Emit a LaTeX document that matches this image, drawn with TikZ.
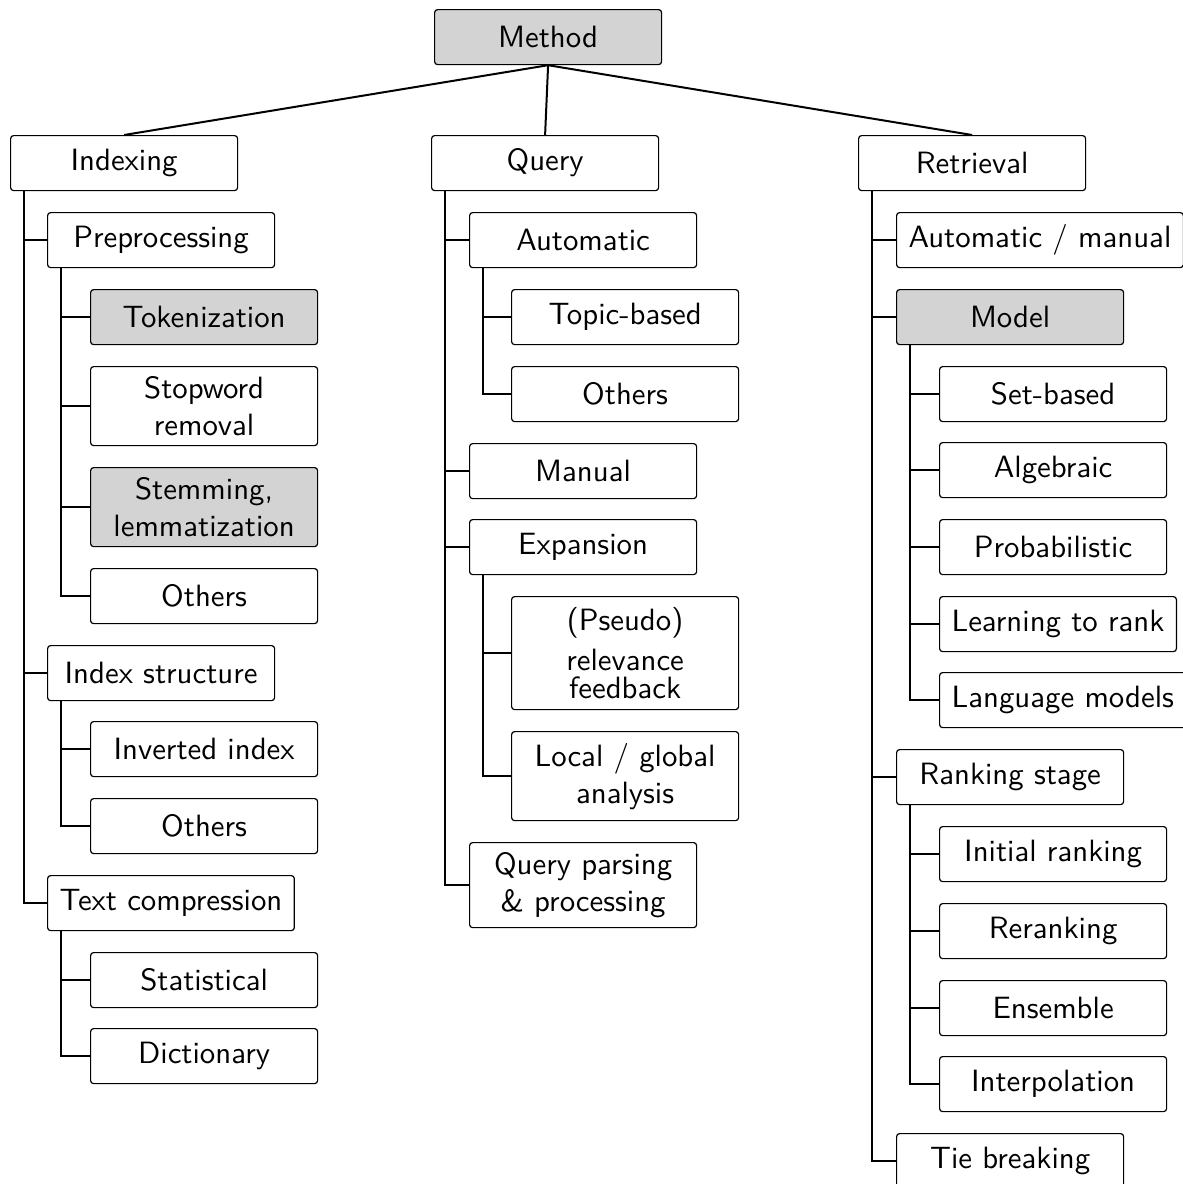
\documentclass[tikz,border=0pt]{standalone}
\usepackage{fontspec}
\newfontfamily\boxfont[Extension=.otf]{lmsans10-regular}
\definecolor{boxgray}{RGB}{211,211,211}
\tikzset{
  box/.style={draw, line width=0.6pt, rounded corners=1.5pt, anchor=north west,
    minimum width=113.5pt, minimum height=27.5pt, inner xsep=6pt, inner ysep=2pt,
    align=center, font=\boxfont\fontsize{15.4}{18.5}\selectfont},
  hl/.style={fill=boxgray},
  link/.style={line width=1pt},
}
\begin{document}
\begin{tikzpicture}[x=0.5pt,y=-0.5pt]
\clip (0,0) rectangle (1183,1184);
\fill[white] (0,0) rectangle (1183,1184);

% root and first level
\node[box,hl] (method) at (434,9) {Method};
\node[box] (indexing) at (10,135) {Indexing};
\node[box] (query) at (431,135) {Query};
\node[box] (retrieval) at (858,135) {Retrieval};
\foreach \c in {indexing,query,retrieval}
  \draw[link] (method.south) -- (\c.north);

% indexing branch
\node[box] (prep) at (47,212) {Preprocessing};
\node[box,hl] (tok) at (90,289) {Tokenization};
\node[box,minimum height=39.5pt] (stop) at (90,366) {Stopword\\removal};
\node[box,hl,minimum height=39.5pt] (stem) at (90,467) {Stemming,\\lemmatization};
\node[box] (othA) at (90,568) {Others};
\node[box] (idxs) at (47,645) {Index structure};
\node[box] (inv) at (90,721) {Inverted index};
\node[box] (othB) at (90,798) {Others};
\node[box] (tcomp) at (47,875) {Text compression};
\node[box] (stat) at (90,952) {Statistical};
\node[box] (dict) at (90,1028) {Dictionary};

\foreach \c in {prep,idxs,tcomp}
  \draw[link] ([xshift=7pt]indexing.south west) |- (\c.west);
\foreach \c in {tok,stop,stem,othA}
  \draw[link] ([xshift=7pt]prep.south west) |- (\c.west);
\foreach \c in {inv,othB}
  \draw[link] ([xshift=7pt]idxs.south west) |- (\c.west);
\foreach \c in {stat,dict}
  \draw[link] ([xshift=7pt]tcomp.south west) |- (\c.west);

% query branch
\node[box] (auto) at (469,212) {Automatic};
\node[box] (topic) at (511,289) {Topic-based};
\node[box] (othC) at (511,366) {Others};
\node[box] (manual) at (469,443) {Manual};
\node[box] (expan) at (469,519) {Expansion};
\node[box,minimum height=56.5pt] (pseudo) at (511,596) {(Pseudo)\\[1.5pt]relevance\\[-4.5pt]feedback};
\node[box,minimum height=44.5pt] (local) at (511,731) {Local / global\\analysis};
\node[box,minimum height=42.5pt] (parse) at (469,842) {Query parsing\\\& processing};

\foreach \c in {auto,manual,expan,parse}
  \draw[link] ([xshift=7pt]query.south west) |- (\c.west);
\foreach \c in {topic,othC}
  \draw[link] ([xshift=7pt]auto.south west) |- (\c.west);
\foreach \c in {pseudo,local}
  \draw[link] ([xshift=7pt]expan.south west) |- (\c.west);

% retrieval branch
\node[box] (automan) at (896,212) {Automatic / manual};
\node[box,hl] (model) at (896,289) {Model};
\node[box] (setb) at (939,366) {Set-based};
\node[box] (alg) at (939,442) {Algebraic};
\node[box] (prob) at (939,519) {Probabilistic};
\node[box] (ltr) at (939,596) {Learning to rank};
\node[box] (lm) at (939,672) {Language models};
\node[box] (rank) at (896,749) {Ranking stage};
\node[box] (init) at (939,826) {Initial ranking};
\node[box] (rerank) at (939,903) {Reranking};
\node[box] (ens) at (939,980) {Ensemble};
\node[box] (interp) at (939,1056) {Interpolation};
\node[box] (tie) at (896,1133) {Tie breaking};

\foreach \c in {automan,model,rank,tie}
  \draw[link] ([xshift=7pt]retrieval.south west) |- (\c.west);
\foreach \c in {setb,alg,prob,ltr,lm}
  \draw[link] ([xshift=7pt]model.south west) |- (\c.west);
\foreach \c in {init,rerank,ens,interp}
  \draw[link] ([xshift=7pt]rank.south west) |- (\c.west);
\end{tikzpicture}
\end{document}
